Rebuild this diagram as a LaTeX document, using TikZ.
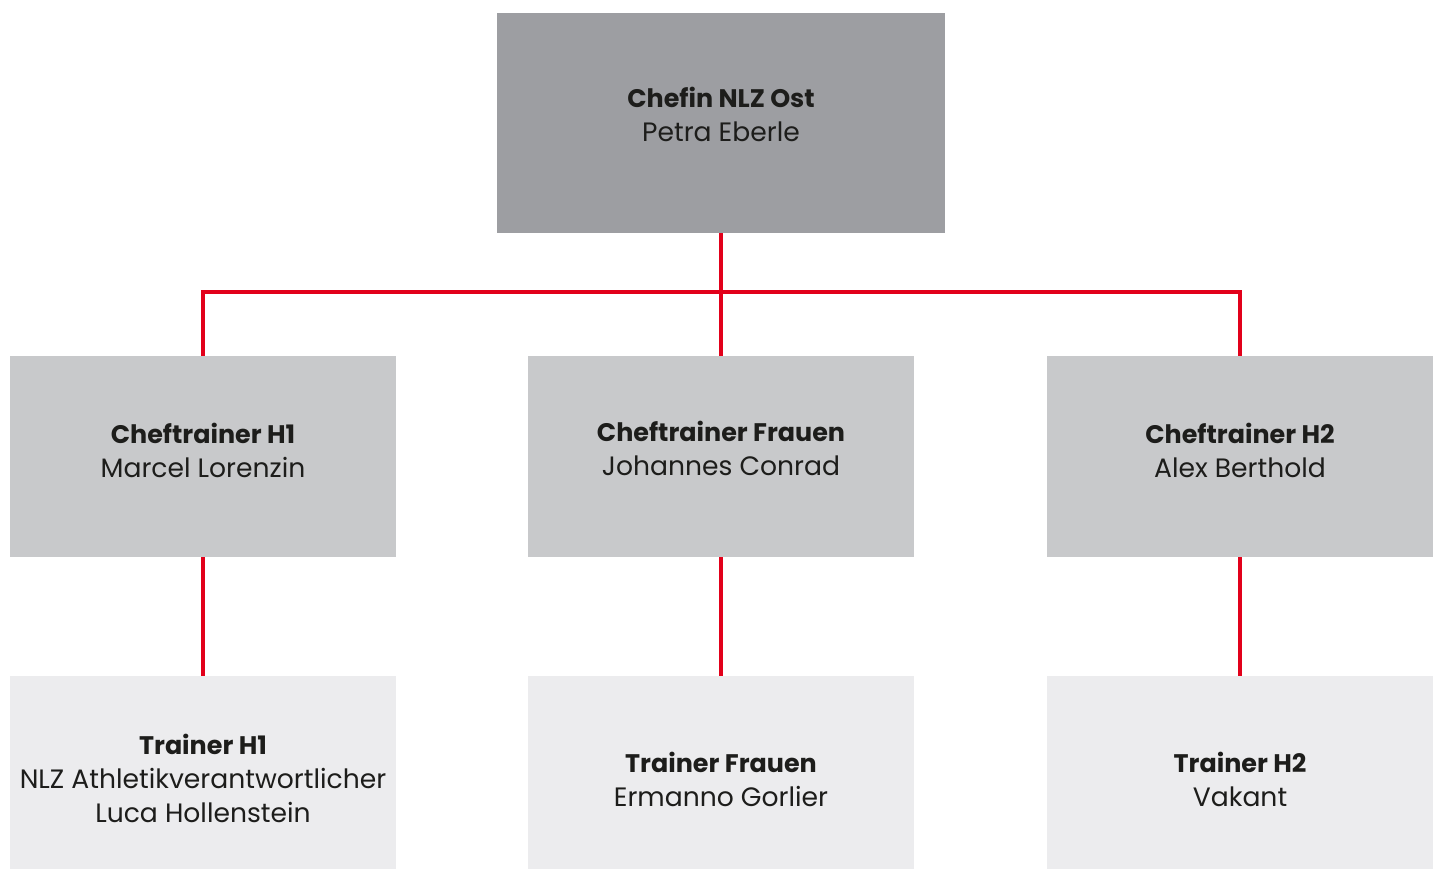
\documentclass[tikz,border=0pt]{standalone}
\usepackage{fontspec}
\setmainfont{Poppins}
\definecolor{boxtop}{HTML}{9D9EA2}
\definecolor{boxmid}{HTML}{C8C9CB}
\definecolor{boxlow}{HTML}{ECECEE}
\definecolor{linered}{HTML}{E2001A}
\definecolor{txt}{HTML}{1D1D1B}
\newcommand\hdline[1]{{\fontsize{12.7}{17}\selectfont\bfseries #1}}
\begin{document}
\begin{tikzpicture}[x=0.5pt,y=-0.5pt,
  box/.style={draw=none,minimum width=193pt,minimum height=100.5pt,inner sep=0pt},
  lowbox/.style={box,fill=boxlow,minimum height=96.5pt},
  midbox/.style={box,fill=boxmid},
  lbl/.style={align=center,text=txt,font=\fontsize{13.3}{17}\selectfont,inner sep=0pt},
  conn/.style={draw=linered,line width=2pt}]
\useasboundingbox (0,0) rectangle (1440,870);
\node[box,fill=boxtop,minimum width=224pt,minimum height=110pt] (top) at (721,123) {};
\node[midbox] (m1) at (203,456.5) {};
\node[midbox] (m2) at (721,456.5) {};
\node[midbox] (m3) at (1240,456.5) {};
\node[lowbox] (l1) at (203,772.5) {};
\node[lowbox] (l2) at (721,772.5) {};
\node[lowbox] (l3) at (1240,772.5) {};
\node[lbl] (topT) at (721,114) {\hdline{Chefin NLZ Ost}\\Petra Eberle};
\node[lbl] (m1T) at (203,450) {\hdline{Cheftrainer H1}\\Marcel Lorenzin};
\node[lbl] (m2T) at (721,448) {\hdline{Cheftrainer Frauen}\\Johannes Conrad};
\node[lbl] (m3T) at (1240,450) {\hdline{Cheftrainer H2}\\Alex Berthold};
\node[lbl] (l1T) at (203,778) {\hdline{Trainer H1}\\NLZ Athletikverantwortlicher\\Luca Hollenstein};
\node[lbl] (l2T) at (721,779) {\hdline{Trainer Frauen}\\Ermanno Gorlier};
\node[lbl] (l3T) at (1240,779) {\hdline{Trainer H2}\\Vakant};
\coordinate (bar) at (721,292);
\draw[conn] (top.south) -- (m2.north);
\draw[conn] (m1.north) |- (bar) -| (m3.north);
\draw[conn] (m1.south) -- (l1.north);
\draw[conn] (m2.south) -- (l2.north);
\draw[conn] (m3.south) -- (l3.north);
\end{tikzpicture}
\end{document}
